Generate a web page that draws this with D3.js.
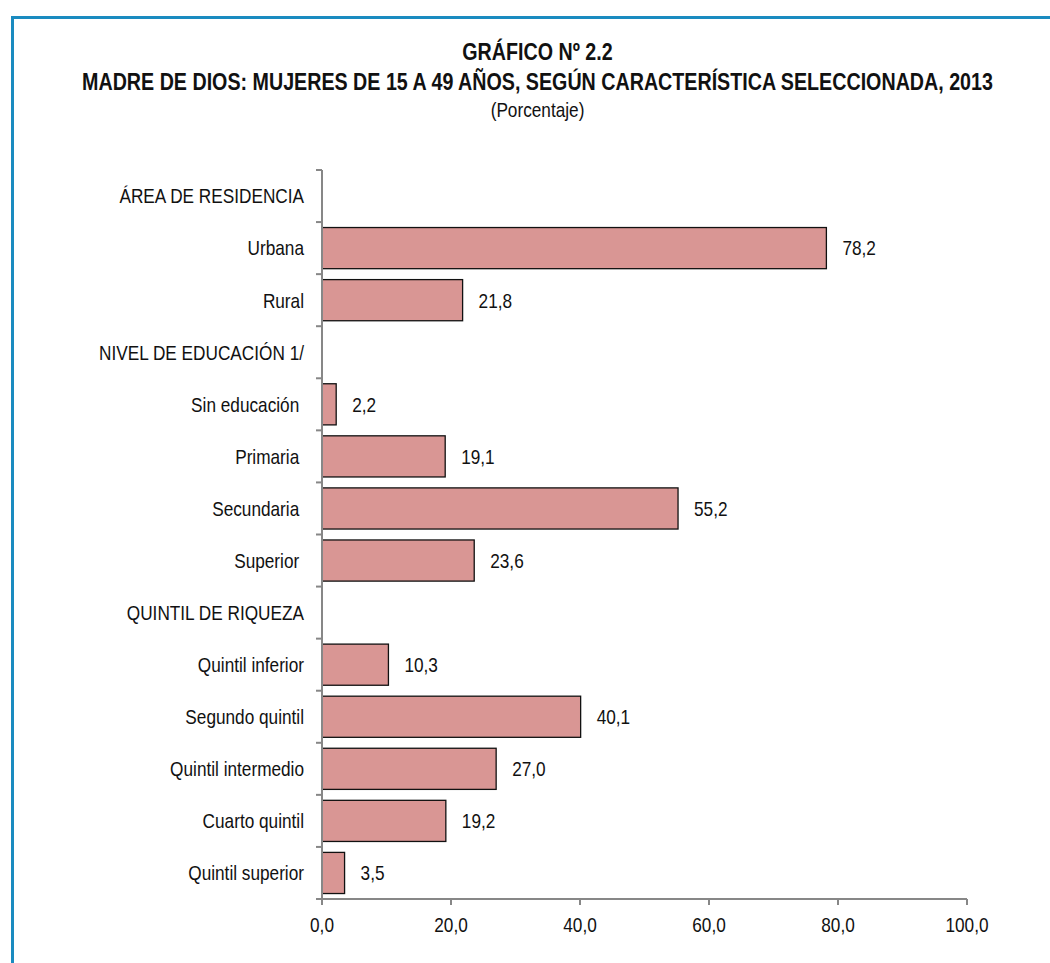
<!DOCTYPE html>
<html>
<head>
<meta charset="utf-8">
<script src="https://cdn.jsdelivr.net/npm/d3@7"></script>
<style>
html,body{margin:0;padding:0;background:#fff;}
svg text{font-family:"Liberation Sans",Arial,sans-serif;white-space:pre;}
</style>
</head>
<body>
<svg id="chart" width="1050" height="963"></svg>
<script>
const categories = ["ÁREA DE RESIDENCIA","Urbana","Rural","NIVEL DE EDUCACIÓN 1/","Sin educación ","Primaria ","Secundaria ","Superior ","QUINTIL DE RIQUEZA","Quintil inferior","Segundo quintil","Quintil intermedio","Cuarto quintil","Quintil superior"];
const values = [null,78.2,21.8,null,2.2,19.1,55.2,23.6,null,10.3,40.1,27.0,19.2,3.5];
const xTicks = [0,20,40,60,80,100];
const titleLines = ["GRÁFICO Nº 2.2","MADRE DE DIOS: MUJERES DE 15 A 49 AÑOS, SEGÚN CARACTERÍSTICA SELECCIONADA, 2013","(Porcentaje)"];

const NARROW = 0.82;
const svg = d3.select("#chart");
const locale = d3.formatLocale({decimal:",",thousands:".",grouping:[3],currency:["",""]});
const fmt = locale.format(".1f");

// narrow text helper: positions via transform, horizontally condensed
function narrow(sel, fx, fy){
  sel.attr("transform",(d,i)=>`translate(${fx(d,i)},${fy(d,i)}) scale(${NARROW},1)`);
  return sel;
}

// frame
svg.append("path").attr("d","M12.5,1000V17.5H1100").attr("fill","none").attr("stroke","#1a8bc0").attr("stroke-width",3);

// titles
const tY=[60,90,117];
const tg = svg.append("g");
narrow(tg.selectAll("text").data(titleLines).join("text"),()=>537.5,(d,i)=>tY[i])
  .attr("text-anchor","middle")
  .attr("font-size",(d,i)=>i<2?24:21).attr("font-weight",(d,i)=>i<2?"bold":"normal")
  .attr("fill","#111").text(d=>d);

const x = d3.scaleLinear().domain([0,100]).range([322,967]);
const y = d3.scaleBand().domain(categories).range([170,899]).paddingInner(0.21).paddingOuter(0.105);
const yt = d3.scaleBand().domain(categories).range([170,899]).padding(0);

const data = categories.map((c,i)=>({c,v:values[i]}));
const withVal = data.filter(d=>d.v!=null);

// bars
svg.append("g").selectAll("rect").data(withVal).join("rect")
  .attr("x",x(0)).attr("y",d=>y(d.c)).attr("width",d=>x(d.v)-x(0)).attr("height",y.bandwidth())
  .attr("fill","#d99694").attr("stroke","#111").attr("stroke-width",1.3);

// value labels
narrow(svg.append("g").selectAll("text").data(withVal).join("text"),
  d=>x(d.v)+16, d=>y(d.c)+y.bandwidth()/2)
  .attr("dy","0.35em").attr("font-size",21).attr("fill","#111").text(d=>fmt(d.v));

// y axis
const ya = svg.append("g");
ya.append("line").attr("x1",x(0)).attr("x2",x(0)).attr("y1",170).attr("y2",899).attr("stroke","#878787").attr("stroke-width",2);
const tickYs = categories.map(c=>yt(c)).concat([899]);
ya.selectAll("line.t").data(tickYs).join("line").attr("class","t")
  .attr("x1",x(0)-6).attr("x2",x(0)).attr("y1",d=>d).attr("y2",d=>d).attr("stroke","#878787").attr("stroke-width",2);
narrow(ya.selectAll("text").data(categories).join("text"), ()=>304, c=>yt(c)+yt.bandwidth()/2)
  .attr("dy","0.35em").attr("text-anchor","end")
  .attr("font-size",21).attr("fill","#111").text(c=>c);

// x axis
const xa = svg.append("g").attr("transform","translate(0,899)");
xa.append("line").attr("x1",x(0)).attr("x2",x(100)).attr("stroke","#878787").attr("stroke-width",2);
xa.selectAll("line.t").data(xTicks).join("line").attr("class","t")
  .attr("x1",d=>x(d)).attr("x2",d=>x(d)).attr("y1",0).attr("y2",6).attr("stroke","#878787").attr("stroke-width",2);
narrow(xa.selectAll("text").data(xTicks).join("text"), d=>x(d), ()=>26)
  .attr("dy","0.35em").attr("text-anchor","middle")
  .attr("font-size",21).attr("fill","#111").text(d=>fmt(d));
</script>
</body>
</html>
